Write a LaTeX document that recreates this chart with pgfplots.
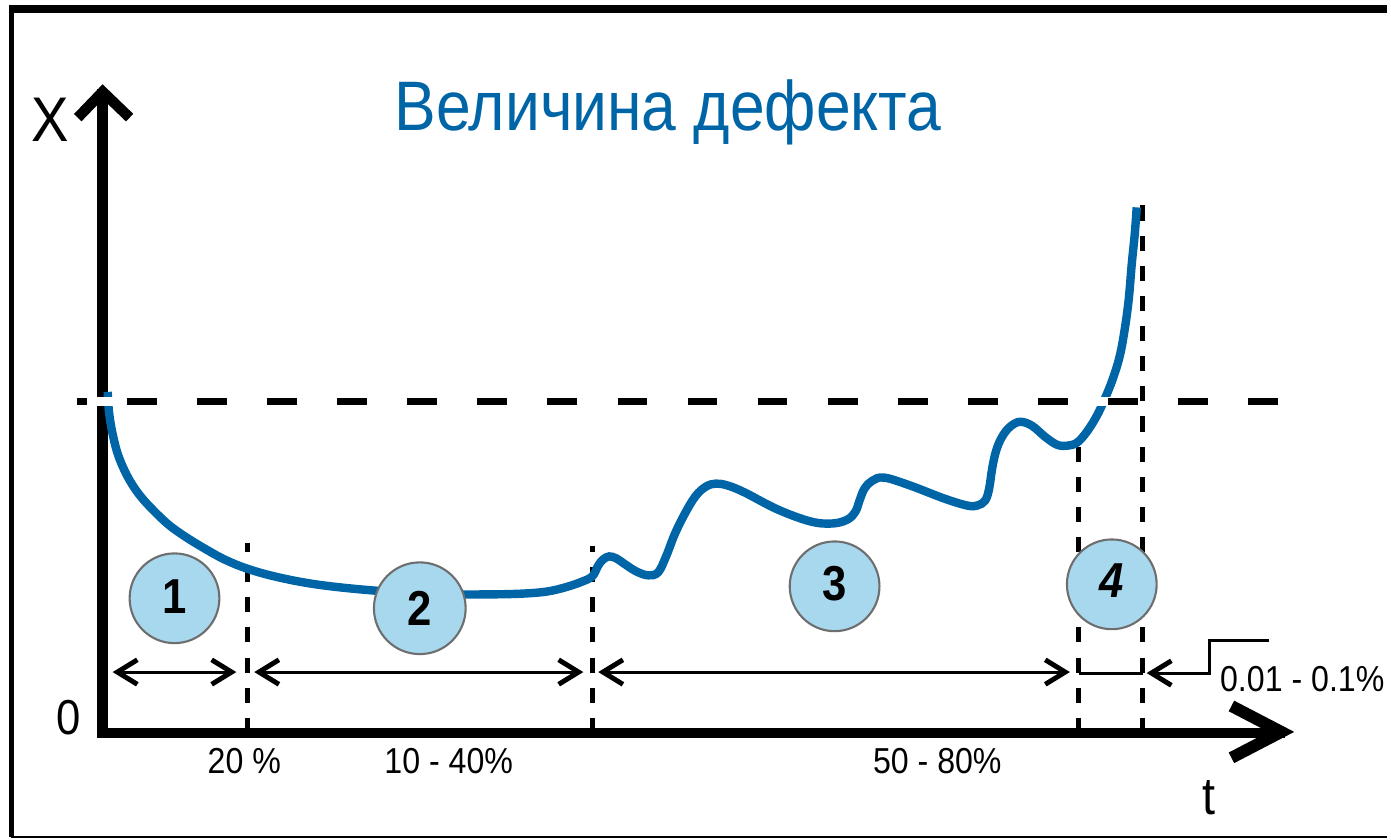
\documentclass[border=0pt]{standalone}
\usepackage{fontspec}
\setmainfont{Liberation Sans}[FakeStretch=0.89]
\usepackage{pgfplots}
\pgfplotsset{compat=1.18}
\usetikzlibrary{arrows.meta}

\definecolor{curveblue}{RGB}{0,101,166}
\definecolor{bubble}{RGB}{168,216,238}
\definecolor{bubbleedge}{RGB}{110,110,110}

\tikzset{
  dimarrow/.style={line width=0.85pt,
    {Straight Barb[length=5.7pt,width=7pt,line width=1.4pt]}-{Straight Barb[length=5.7pt,width=7pt,line width=1.4pt]}},
  vdash/.style={line width=1.4pt, dash pattern=on 4.3pt off 4.3pt},
  bubblestyle/.style={fill=bubble, draw=bubbleedge, line width=0.6pt},
  every node/.append style={inner sep=0pt},
}

\begin{document}
\begin{tikzpicture}
\begin{axis}[
  width=13.91cm, height=8.42cm, scale only axis,
  xmin=-103, xmax=1288, ymin=-107, ymax=735,
  hide axis, clip=false,
]
\path (axis cs:-103,-107) rectangle (axis cs:1288,735);

% рамка
\draw[line width=2.3pt] (axis cs:-94,726) -- (axis cs:1288,726);
\draw[line width=1.3pt] (axis cs:-91.5,729) -- (axis cs:-91.5,-104);
\draw[line width=0.6pt] (axis cs:-92,-104) -- (axis cs:1288,-104);

% вертикальные пунктиры
\draw[vdash] (axis cs:145,0) -- (axis cs:145,190);
\draw[vdash] (axis cs:491,0) -- (axis cs:491,187);
\draw[vdash] (axis cs:979,0) -- (axis cs:979,302);
\draw[vdash] (axis cs:1043,0) -- (axis cs:1043,537);

% оси
\draw[line width=3pt, line cap=rect] (axis cs:0,0) -- (axis cs:0,640);
\draw[line width=3pt, line join=miter] (axis cs:-25,617) -- (axis cs:0,643) -- (axis cs:27,617);
\draw[line width=3pt, line cap=rect] (axis cs:0,0) -- (axis cs:1180,0);
\draw[line width=3.4pt, line join=miter] (axis cs:1132,27) -- (axis cs:1182,1) -- (axis cs:1132,-25);

% кривая
\addplot[curveblue, line width=2.4pt, smooth, tension=0.6] coordinates {
  (5,342) (6,325) (8,310) (11,295) (15,280) (21,265) (29,250) (39,236)
  (52,222) (67,208) (84,196) (102,185) (122,174) (144,165) (172,157)
  (207,150) (247,145) (297,141) (347,139) (397,139) (427,140) (447,142)
  (464,146) (479,151) (491,157) (497,168) (502,174) (508,177) (515,175)
  (524,169) (535,162) (547,158) (557,161) (565,177) (574,200) (585,222)
  (595,238) (605,247) (615,250) (627,248) (644,241) (677,224) (710,212)
  (732,210) (747,214) (755,222) (759,233) (764,245) (772,253) (784,256)
  (810,248) (844,235) (867,228) (877,228) (885,233) (889,245) (892,265)
  (896,283) (902,297) (910,307) (920,312) (932,308) (945,297) (957,289)
  (967,288) (977,291) (987,302) (997,318) (1005,335) (1013,355) (1020,378)
  (1025,405) (1029,435) (1032,470) (1035,500) (1037,527)
};

% горизонтальный пунктир
\draw[white, line width=2.6pt] (axis cs:-12,332) -- (axis cs:1015,332);
\draw[line width=2pt, dash pattern=on 8.5pt off 11.5pt, dash phase=5.7pt]
  (axis cs:-26,332) -- (axis cs:1192,332);

% стрелки интервалов
\draw[dimarrow] (axis cs:10,61) -- (axis cs:134,61);
\draw[dimarrow] (axis cs:152,61) -- (axis cs:482,61);
\draw[dimarrow] (axis cs:497,61) -- (axis cs:970,61);
\draw[line width=0.85pt] (axis cs:979,60) -- (axis cs:1043,60);
\draw[line width=0.85pt, {Straight Barb[length=5.7pt,width=7pt,line width=1.4pt]}-]
  (axis cs:1047,60) -- (axis cs:1110,60) -- (axis cs:1110,93) -- (axis cs:1170,93);

% кружки
\draw[bubblestyle] (axis cs:72,135) circle[radius=0.45cm];
\draw[bubblestyle] (axis cs:318,125) circle[radius=0.46cm];
\draw[bubblestyle] (axis cs:734,147) circle[radius=0.45cm];
\draw[bubblestyle] (axis cs:1012,149) circle[radius=0.45cm];
\node[font=\fontsize{14}{16}\selectfont\bfseries] at (axis cs:72,137) {1};
\node[font=\fontsize{14}{16}\selectfont\bfseries] at (axis cs:318,125) {2};
\node[font=\fontsize{14}{16}\selectfont\bfseries] at (axis cs:734,150) {3};
\node[font=\fontsize{14}{16}\selectfont\bfseries\itshape] at (axis cs:1012,153) {4};

% подписи
\node[text=curveblue, font=\fontsize{20}{24}\selectfont] at (axis cs:567,622) {Величина дефекта};
\node[font=\fontsize{18}{21}\selectfont] at (axis cs:-53,615) {X};
\node[font=\fontsize{14}{17}\selectfont] at (axis cs:-34,15) {0};
\node[font=\fontsize{15}{18}\selectfont] at (axis cs:1109,-65) {t};
\node[font=\fontsize{10.3}{12}\selectfont] at (axis cs:142,-28) {20 \%};
\node[font=\fontsize{10.3}{12}\selectfont] at (axis cs:347,-28) {10 - 40\%};
\node[font=\fontsize{10.3}{12}\selectfont] at (axis cs:837,-28) {50 - 80\%};
\node[font=\fontsize{10.3}{12}\selectfont] at (axis cs:1203,54) {0.01 - 0.1\%};
\end{axis}
\end{tikzpicture}
\end{document}
